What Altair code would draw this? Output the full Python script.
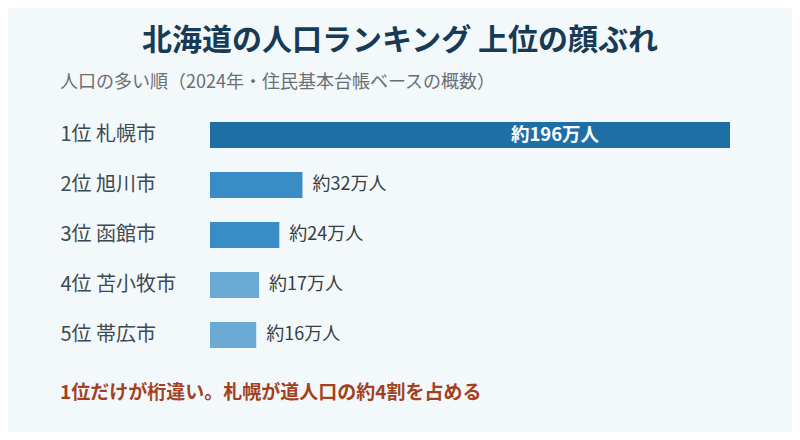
import altair as alt
import pandas as pd

ranks = ["1位", "2位", "3位", "4位", "5位"]
cities = ["札幌市", "旭川市", "函館市", "苫小牧市", "帯広市"]
population_man = [196, 32, 24, 17, 16]
value_labels = ["約196万人", "約32万人", "約24万人", "約17万人", "約16万人"]
bar_colors = ["#1f6fa7", "#3a8cc6", "#3a8cc6", "#6aaad3", "#6aaad3"]
title_text = "北海道の人口ランキング 上位の顔ぶれ"
subtitle_text = "人口の多い順（2024年・住民基本台帳ベースの概数）"
note_text = "1位だけが桁違い。札幌が道人口の約4割を占める"

FONT = "Noto Sans CJK JP"

df = pd.DataFrame({
    "label": [f"{r} {c}" for r, c in zip(ranks, cities)],
    "pop": population_man,
    "text": value_labels,
    "color": bar_colors,
})

y = alt.Y("label:N", sort=None,
          scale=alt.Scale(paddingInner=0.48, paddingOuter=0.24),
          axis=alt.Axis(title=None, labelAlign="left", labelPadding=150,
                        domain=False, ticks=False, labelFontSize=20,
                        labelColor="#3d4a50", labelFont=FONT, labelLimit=200))
x = alt.X("pop:Q", scale=alt.Scale(domain=[0, 180], clamp=True, nice=False), axis=None)

base = alt.Chart(df)
bars = base.mark_bar().encode(x=x, y=y, color=alt.Color("color:N", scale=None))
outside = base.transform_filter("datum.pop < 100").mark_text(
    align="left", baseline="middle", dx=10, fontSize=18, font=FONT, color="#363e43"
).encode(x=x, y=y, text="text:N")
inside = base.transform_filter("datum.pop >= 100").mark_text(
    align="center", baseline="middle", dx=-175, fontSize=18.5, font=FONT,
    fontWeight="bold", color="white"
).encode(x=x, y=y, text="text:N")

title = alt.Chart(pd.DataFrame({"t": [title_text]})).mark_text(
    align="center", baseline="middle", fontSize=30, fontWeight="bold",
    font=FONT, color="#173a55"
).encode(x=alt.value(190), y=alt.value(-69), text="t:N")
subtitle = alt.Chart(pd.DataFrame({"t": [subtitle_text]})).mark_text(
    align="left", baseline="middle", fontSize=18, font=FONT, color="#6b6f72"
).encode(x=alt.value(-150), y=alt.value(-27), text="t:N")
note = alt.Chart(pd.DataFrame({"t": [note_text]})).mark_text(
    align="left", baseline="middle", fontSize=19, fontWeight="bold",
    font=FONT, color="#a3411f"
).encode(x=alt.value(-150), y=alt.value(283), text="t:N")

chart = alt.layer(bars, outside, inside, title, subtitle, note).properties(
    width=520, height=250,
    autosize=alt.AutoSizeParams(type="none"),
    padding={"left": 202, "top": 102, "right": 62, "bottom": 72},
    background="#f3f8fb",
).configure_view(stroke=None)

chart.save("out.html", embed_options={"renderer": "svg", "actions": False})
